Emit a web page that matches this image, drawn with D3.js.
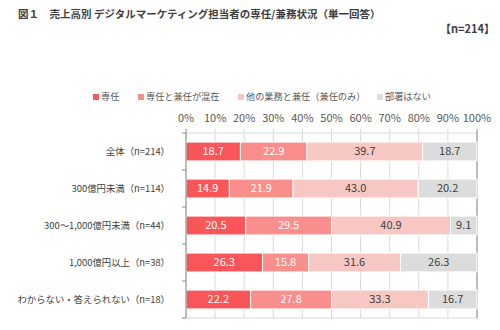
<!DOCTYPE html>
<html lang="ja">
<head>
<meta charset="UTF-8">
<title>売上高別 デジタルマーケティング担当者の専任/兼務状況</title>
<style>
  body { margin: 0; background: #fff; }
  svg { display: block; font-family: "Noto Sans CJK JP", "Noto Sans", sans-serif; }
</style>
</head>
<body>
<div id="chart"></div>
<script src="https://d3js.org/d3.v7.min.js"></script>
<script>
// rows (top to bottom)
const categories = ["全体（n=214）", "300億円未満（n=114）", "300～1,000億円未満（n=44）", "1,000億円以上（n=38）", "わからない・答えられない（n=18）"];
const seriesNames = ["専任", "専任と兼任が混在", "他の業務と兼任（兼任のみ）", "部署はない"];
const dedicated = [18.7, 14.9, 20.5, 26.3, 22.2];
const mixed = [22.9, 21.9, 29.5, 15.8, 27.8];
const concurrentOnly = [39.7, 43.0, 40.9, 31.6, 33.3];
const noDept = [18.7, 20.2, 9.1, 26.3, 16.7];
const tickLabels = ["0%", "10%", "20%", "30%", "40%", "50%", "60%", "70%", "80%", "90%", "100%"];

const colors = ["#f85659", "#f98f8c", "#f7c7c3", "#dcdcdc"];
const labelColors = ["#fff", "#fff", "#404040", "#404040"];

const width = 500, height = 330;
const margin = { top: 133, right: 23, bottom: 12, left: 186 };

const svg = d3.select("#chart").append("svg")
  .attr("width", width)
  .attr("height", height);

// title and sample size
svg.append("text")
  .attr("x", 18).attr("y", 18)
  .attr("font-size", 10.5).attr("font-weight", "bold").attr("fill", "#404040")
  .text("図１　売上高別 デジタルマーケティング担当者の専任/兼務状況（単一回答）");
svg.append("text")
  .attr("x", 495).attr("y", 33).attr("text-anchor", "end")
  .attr("font-size", 11).attr("font-weight", "bold").attr("fill", "#404040")
  .text("【n=214】");

const x = d3.scaleLinear().domain([0, 100]).range([margin.left, width - margin.right]);
const y = d3.scaleBand().domain(categories).range([margin.top, height - margin.bottom]).paddingInner(0.49).paddingOuter(0.245);

// stacked rows
const rows = categories.map((c, i) => ({ cat: c, 0: dedicated[i], 1: mixed[i], 2: concurrentOnly[i], 3: noDept[i] }));
const stacked = d3.stack().keys([0, 1, 2, 3])(rows);

// gridlines
svg.append("g")
  .selectAll("line")
  .data(d3.range(1, 10).map(v => v * 10))
  .join("line")
  .attr("x1", d => x(d)).attr("x2", d => x(d))
  .attr("y1", margin.top - 4).attr("y2", height - margin.bottom)
  .attr("stroke", "#d9d9d9").attr("stroke-width", 1);

// plot frame
svg.append("rect")
  .attr("x", x(0)).attr("y", margin.top)
  .attr("width", x(100) - x(0)).attr("height", height - margin.bottom - margin.top)
  .attr("fill", "none").attr("stroke", "#d9d9d9");
svg.append("line")
  .attr("x1", x(100)).attr("x2", x(100))
  .attr("y1", margin.top - 4).attr("y2", height - margin.bottom)
  .attr("stroke", "#8c8c8c");

// top axis labels
svg.append("g")
  .selectAll("text")
  .data(tickLabels)
  .join("text")
  .attr("x", (d, i) => x(i * 10))
  .attr("y", 122)
  .attr("text-anchor", "middle")
  .attr("font-size", 11).attr("fill", "#595959")
  .text(d => d);

// bars
const layer = svg.append("g")
  .selectAll("g")
  .data(stacked)
  .join("g")
  .attr("fill", d => colors[d.key]);

layer.selectAll("rect")
  .data(d => d)
  .join("rect")
  .attr("x", d => x(d[0]))
  .attr("y", d => y(d.data.cat))
  .attr("width", d => x(d[1]) - x(d[0]))
  .attr("height", y.bandwidth())
  .attr("stroke", "#fff").attr("stroke-width", 1);

layer.selectAll("text")
  .data(d => d.map(p => ({ p, key: d.key })))
  .join("text")
  .attr("x", d => (x(d.p[0]) + x(d.p[1])) / 2)
  .attr("y", d => y(d.p.data.cat) + y.bandwidth() / 2)
  .attr("dy", "0.36em")
  .attr("text-anchor", "middle")
  .attr("font-size", 11)
  .attr("fill", d => labelColors[d.key])
  .text(d => (d.p[1] - d.p[0]).toFixed(1));

// left axis with ticks between rows
const bounds = d3.range(categories.length + 1).map(i => margin.top + i * y.step());
svg.append("line")
  .attr("x1", x(0)).attr("x2", x(0))
  .attr("y1", margin.top - 4).attr("y2", height - margin.bottom)
  .attr("stroke", "#8c8c8c");
svg.append("g")
  .selectAll("line")
  .data(bounds)
  .join("line")
  .attr("x1", x(0) - 4).attr("x2", x(0))
  .attr("y1", d => d).attr("y2", d => d)
  .attr("stroke", "#8c8c8c");

// category labels
svg.append("g")
  .selectAll("text")
  .data(categories)
  .join("text")
  .attr("x", 170)
  .attr("y", d => y(d) + y.bandwidth() / 2)
  .attr("dy", "0.36em")
  .attr("text-anchor", "end")
  .attr("font-size", 9.4).attr("fill", "#404040")
  .text(d => d);

// legend
const legendX = [93, 138, 238, 377];
const legend = svg.append("g")
  .selectAll("g")
  .data(seriesNames)
  .join("g")
  .attr("transform", (d, i) => `translate(${legendX[i]},97)`);
legend.append("rect")
  .attr("x", 0).attr("y", -3).attr("width", 6).attr("height", 6)
  .attr("fill", (d, i) => colors[i]);
legend.append("text")
  .attr("x", 8).attr("y", 0).attr("dy", "0.35em")
  .attr("font-size", 9.2).attr("fill", "#595959")
  .text(d => d);
</script>
</body>
</html>
